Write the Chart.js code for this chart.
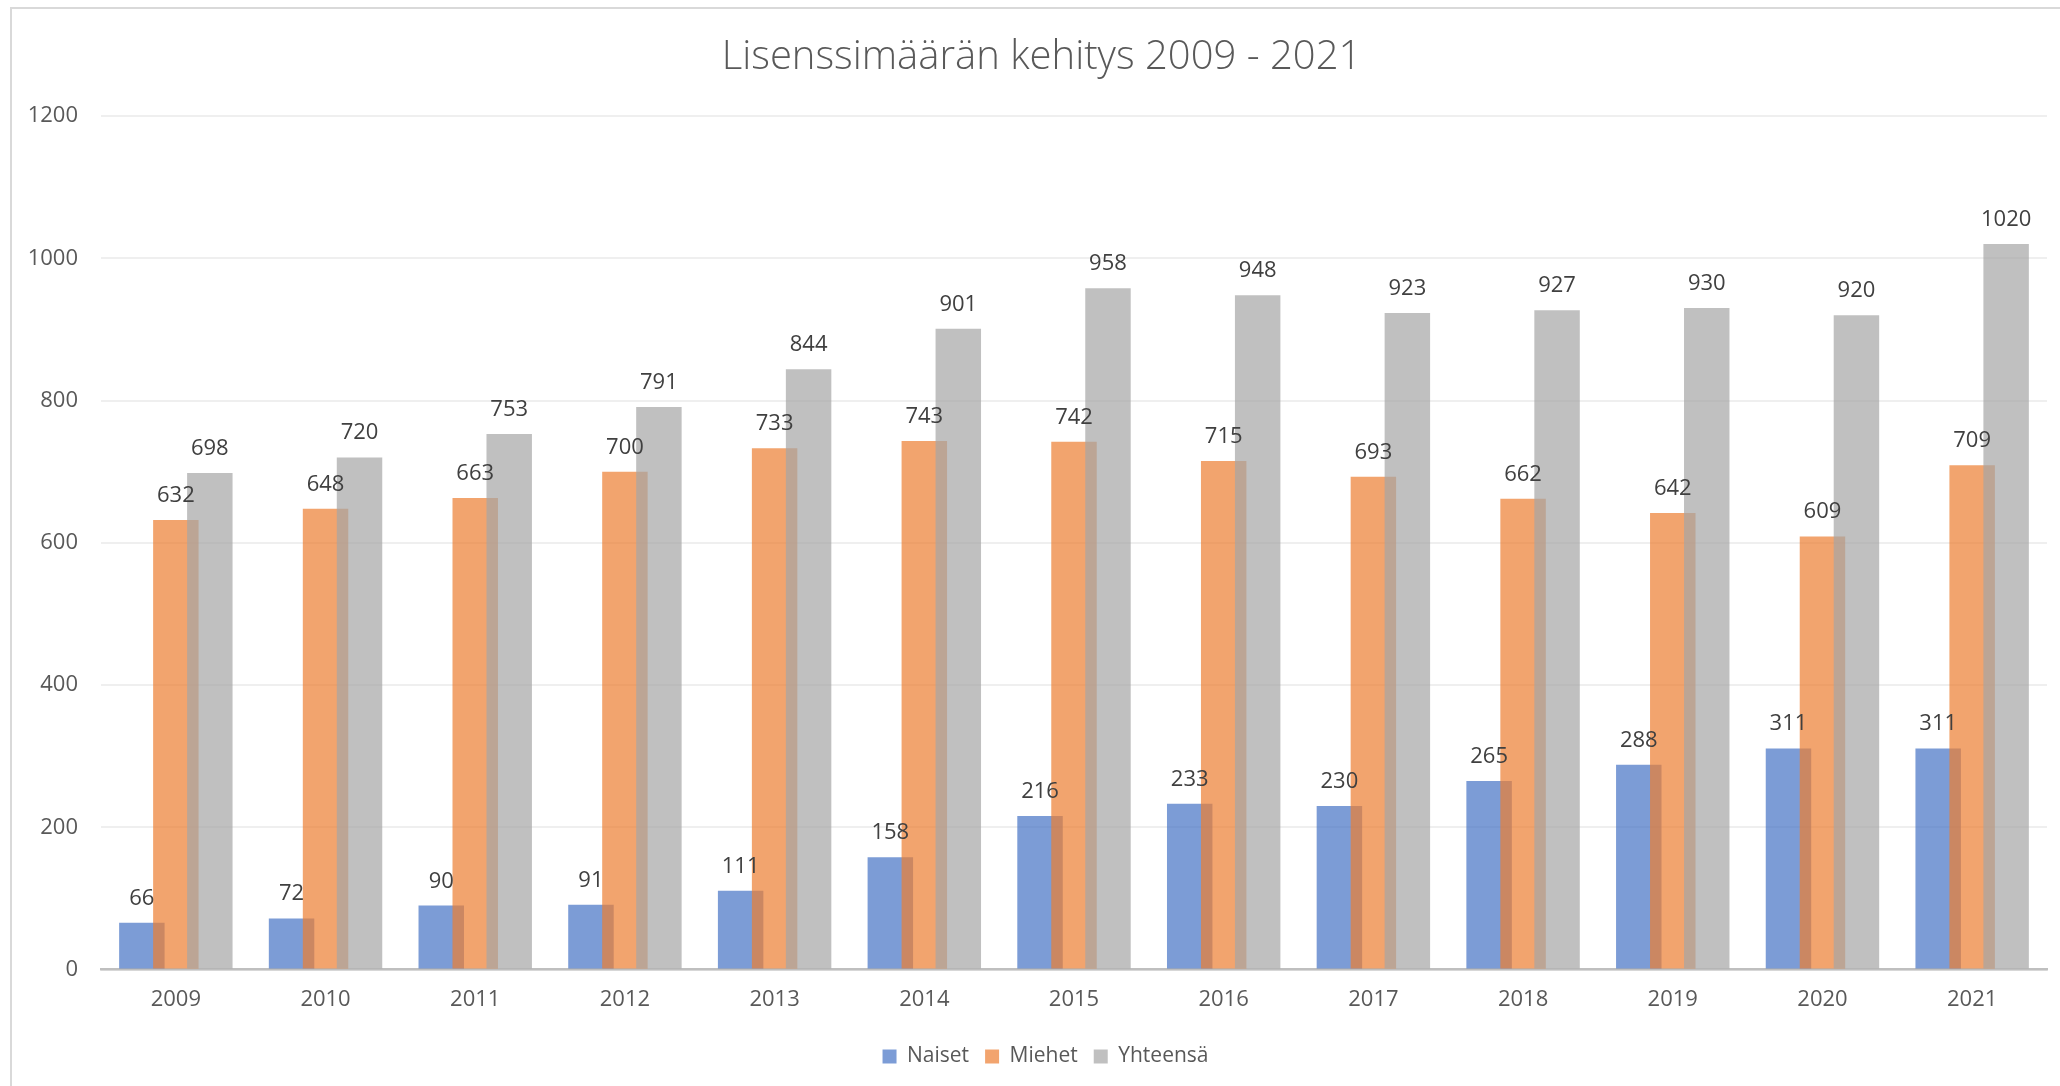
<!DOCTYPE html>
<html lang="fi">
<head>
<meta charset="utf-8">
<title>Lisenssimäärän kehitys 2009 - 2021</title>
<script src="https://cdn.jsdelivr.net/npm/chart.js@4.4.1/dist/chart.umd.min.js"></script>
<style>
  html, body { margin: 0; padding: 0; background: #fff; overflow: hidden; }
  #wrap { position: relative; width: 2060px; height: 1086px; }
  #chart { position: absolute; left: 0; top: 0; }
  #frame {
    position: absolute; left: 10px; top: 7px; width: 2060px; height: 1086px;
    border-top: 2px solid #d9d9d9; border-left: 2px solid #d9d9d9;
    pointer-events: none;
  }
</style>
</head>
<body>
<div id="wrap">
  <canvas id="chart" width="2060" height="1086"></canvas>
  <div id="frame"></div>
</div>
<script>
const years = ['2009', '2010', '2011', '2012', '2013', '2014', '2015', '2016', '2017', '2018', '2019', '2020', '2021'];
const naiset = [66, 72, 90, 91, 111, 158, 216, 233, 230, 265, 288, 311, 311];
const miehet = [632, 648, 663, 700, 733, 743, 742, 715, 693, 662, 642, 609, 709];
const yhteensa = [698, 720, 753, 791, 844, 901, 958, 948, 923, 927, 930, 920, 1020];
const yTicks = [0, 200, 400, 600, 800, 1000, 1200];

const fontFamily = '"Open Sans", "Liberation Sans", sans-serif';

// Excel draws later series on top, and the labels go over all bars
const overlapBars = {
  id: 'overlapBars',
  afterLayout(chart) {
    // title and legend sit centred on the whole chart object, a bit right of ours
    chart.titleBlock.left += 8;
    chart.titleBlock.right += 8;
    chart.legend.left += 12;
    chart.legend.right += 12;
  },
  beforeDatasetsDraw(chart) {
    const ctx = chart.ctx;
    const n = chart.data.datasets.length;
    for (let i = 0; i < n; i++) {
      chart.getDatasetMeta(i).controller.draw();
    }
    ctx.save();
    ctx.font = '22px ' + fontFamily;
    ctx.fillStyle = '#404040';
    ctx.textAlign = 'center';
    ctx.textBaseline = 'alphabetic';
    for (let i = 0; i < n; i++) {
      const meta = chart.getDatasetMeta(i);
      meta.data.forEach((bar, j) => {
        ctx.fillText(String(chart.data.datasets[i].data[j]), bar.x, bar.y - 18);
      });
    }
    ctx.restore();
    return false;
  }
};

new Chart(document.getElementById('chart').getContext('2d'), {
  type: 'bar',
  data: {
    labels: years,
    datasets: [
      { label: 'Naiset', data: naiset, backgroundColor: 'rgba(68, 114, 196, 0.7)' },
      { label: 'Miehet', data: miehet, backgroundColor: 'rgba(237, 125, 49, 0.7)' },
      { label: 'Yhteensä', data: yhteensa, backgroundColor: 'rgba(165, 165, 165, 0.7)' }
    ]
  },
  options: {
    responsive: false,
    animation: false,
    devicePixelRatio: 1,
    categoryPercentage: 0.681,
    barPercentage: 1.338,
    borderWidth: 0,
    layout: { padding: { left: 20, right: 13, top: 0, bottom: 9 } },
    plugins: {
      title: {
        display: true,
        text: 'Lisenssimäärän kehitys 2009 - 2021',
        color: '#595959',
        font: { family: fontFamily, size: 40, weight: '300' },
        padding: { top: 34, bottom: 34 }
      },
      legend: {
        position: 'bottom',
        labels: {
          color: '#595959',
          font: { family: fontFamily, size: 21 },
          boxWidth: 14,
          boxHeight: 14,
          padding: 16
        }
      },
      tooltip: { enabled: false }
    },
    scales: {
      x: {
        grid: { display: false, drawTicks: false },
        border: { display: true, color: '#bfbfbf', width: 2.5 },
        ticks: { color: '#595959', font: { family: fontFamily, size: 22 }, padding: 17 }
      },
      y: {
        min: 0,
        max: 1200,
        afterFit(scale) { scale.width = 81; },
        afterBuildTicks(scale) { scale.ticks = yTicks.map(v => ({ value: v })); },
        grid: { color: '#efefef', lineWidth: 2, drawTicks: false },
        border: { display: false },
        ticks: {
          color: '#595959',
          font: { family: fontFamily, size: 22 },
          padding: 23,
          callback: v => String(v)
        }
      }
    }
  },
  plugins: [overlapBars]
});
</script>
</body>
</html>
